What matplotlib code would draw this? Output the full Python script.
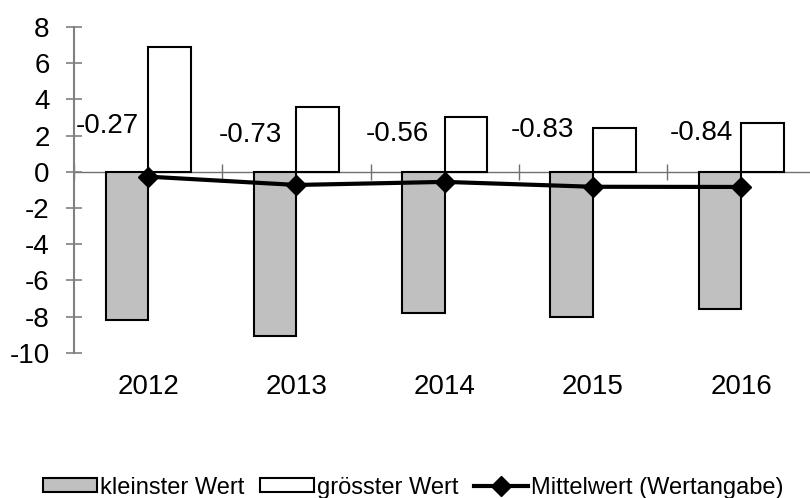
import matplotlib
matplotlib.use("Agg")
import matplotlib.pyplot as plt
import numpy as np

years = ["2012", "2013", "2014", "2015", "2016"]
min_vals = [-8.2, -9.1, -7.8, -8.0, -7.6]
max_vals = [6.9, 3.6, 3.0, 2.4, 2.7]
mean_vals = [-0.27, -0.73, -0.56, -0.83, -0.84]
mean_labels = ["-0.27", "-0.73", "-0.56", "-0.83", "-0.84"]

# label placement (styling only)
label_dx = [-0.06, -0.10, -0.107, -0.13, -0.057]
label_base = [2.16, 1.66, 1.71, 1.93, 1.77]

plt.rcParams['font.family'] = ['Liberation Sans', 'DejaVu Sans']

fig = plt.figure(figsize=(8.10, 4.98), dpi=100)
ax = fig.add_axes([74 / 810, 1 - 352.7 / 498, 741.5 / 810, 325.7 / 498])

x = np.arange(len(years))
w = 0.287
b1 = ax.bar(x - w / 2, min_vals, width=w, color="#c0c0c0", edgecolor="black",
            linewidth=1.5, label="kleinster Wert", zorder=2)
b2 = ax.bar(x + w / 2, max_vals, width=w, color="white", edgecolor="black",
            linewidth=1.5, label="grösster Wert", zorder=2)
ln, = ax.plot(x, mean_vals, color="black", linewidth=3, marker="D", markersize=10,
              label="Mittelwert (Wertangabe)", zorder=4)

for i, lab in enumerate(mean_labels):
    ax.text(x[i] + label_dx[i], label_base[i], lab, ha="right", va="baseline",
            fontsize=20, zorder=5)

ax.set_xlim(-0.5, len(years) - 0.5)
ax.set_ylim(-10, 8)
ax.set_yticks(np.arange(-10, 9, 2))
ax.set_yticklabels([str(v) for v in range(-10, 9, 2)], fontsize=20)

for s in ["top", "right"]:
    ax.spines[s].set_visible(False)
ax.spines["left"].set_color("#808080")
ax.spines["left"].set_linewidth(1.5)
ax.spines["bottom"].set_position(("data", 0))
ax.spines["bottom"].set_color("#707070")
ax.spines["bottom"].set_linewidth(1.0)
ax.spines["bottom"].set_zorder(1)

ax.set_xticks(np.arange(-0.5, len(years), 1.0))
ax.set_xticklabels([])
ax.tick_params(axis="x", direction="inout", length=12, color="#707070", width=1)
ax.tick_params(axis="y", direction="inout", length=11, color="#808080", width=1.2,
               pad=12)

for i, yr in enumerate(years):
    ax.annotate(yr, xy=(x[i], -10), xytext=(0, -41), textcoords="offset pixels",
                ha="center", va="baseline", fontsize=20, annotation_clip=False)

leg = fig.legend(handles=[b1, b2, ln], loc="center", bbox_to_anchor=(0.51, 0.021),
                 ncol=3, frameon=False, fontsize=17, handlelength=2.3,
                 handletextpad=0.13, columnspacing=0.64, handleheight=0.55,
                 borderaxespad=0, borderpad=0)

fig.savefig("out.png", dpi=100)
